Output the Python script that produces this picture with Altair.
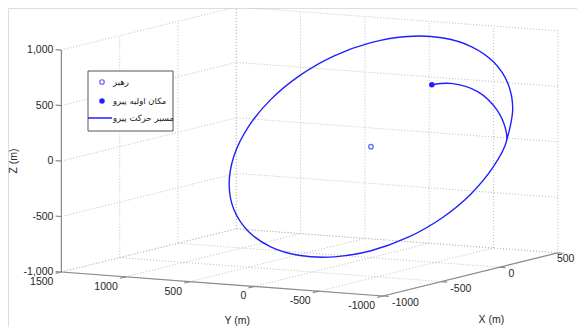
import math
import altair as alt
import pandas as pd

# ---------------- axis limits, ticks, labels ----------------
X_LIM = [-1000, 500]
Y_LIM = [-1000, 1500]
Z_LIM = [-1000, 1000]
X_TICKS = [-1000, -500, 0, 500]
Y_TICKS = [-1000, -500, 0, 500, 1000, 1500]
Z_TICKS = [-1000, -500, 0, 500, 1000]
X_TICK_LABELS = ["-1000", "-500", "0", "500"]
Y_TICK_LABELS = ["-1000", "-500", "0", "500", "1000", "1500"]
Z_TICK_LABELS = ["-1,000", "-500", "0", "500", "1,000"]
X_TITLE, Y_TITLE, Z_TITLE = "X (m)", "Y (m)", "Z (m)"

# ---------------- data (metres) ----------------
path_x = [294, 306, 278, 205, 119, 68, -47, -176, -293, -390, -461, -500, -505, -476,
          -414, -324, -212, -86, 47, 176, 293, 390, 461, 500, 505, 476, 414, 324, 212, 68]
path_y = [-207, -359, -578, -792, -940, -992, -997, -939, -817, -639, -418, -168, 93, 348,
          579, 771, 910, 987, 997, 939, 817, 639, 418, 168, -93, -348, -579, -771, -910, -992]
path_z = [500, 520, 474, 349, 204, 118, -78, -297, -496, -662, -782, -849, -858, -809,
          -705, -552, -362, -147, 78, 297, 496, 662, 782, 849, 858, 809, 705, 552, 362, 118]
leader_xyz = [0, 0, 0]
start_xyz = [294, -207, 500]

LEGEND_LABELS = ["رهبر", "مکان اولیه پیرو", "مسیر حرکت پیرو"]

# ---------------- view (MATLAB-like orthographic projection) ----------------
AZ = math.radians(61.2)
EL = math.radians(7.8)
BOX = (363, 367, 224)


def project(x, y, z):
    xn = (x - X_LIM[0]) / (X_LIM[1] - X_LIM[0]) * BOX[0]
    yn = (y - Y_LIM[0]) / (Y_LIM[1] - Y_LIM[0]) * BOX[1]
    zn = (z - Z_LIM[0]) / (Z_LIM[1] - Z_LIM[0]) * BOX[2]
    h = xn * math.cos(AZ) - yn * math.sin(AZ)
    v = (xn * math.sin(AZ) + yn * math.cos(AZ)) * math.sin(EL) + zn * math.cos(EL)
    return h, v


def seg_frame(segs):
    rows = []
    for p, q in segs:
        h1, v1 = project(*p)
        h2, v2 = project(*q)
        rows.append({"h": h1, "v": v1, "h2": h2, "v2": v2})
    return pd.DataFrame(rows)


x0, x1 = X_LIM
y0, y1 = Y_LIM
z0, z1 = Z_LIM

# grid lines on the three back planes
grid = []
for xt in X_TICKS:
    grid.append(((xt, y0, z0), (xt, y1, z0)))       # floor
    grid.append(((xt, y1, z0), (xt, y1, z1)))       # left wall (Y = max)
for yt in Y_TICKS:
    grid.append(((x0, yt, z0), (x1, yt, z0)))       # floor
    grid.append(((x1, yt, z0), (x1, yt, z1)))       # back wall (X = max)
for zt in Z_TICKS:
    grid.append(((x0, y1, zt), (x1, y1, zt)))       # left wall
    grid.append(((x1, y0, zt), (x1, y1, zt)))       # back wall
grid_df = seg_frame(grid)

axes_df = seg_frame([
    ((x0, y1, z0), (x0, y1, z1)),   # Z axis
    ((x0, y0, z0), (x0, y1, z0)),   # Y axis
    ((x0, y0, z0), (x1, y0, z0)),   # X axis
])

ticks = []
for zt in Z_TICKS:
    ticks.append(((x0, y1, zt), (x0, y1 + 45, zt)))
for yt in Y_TICKS:
    ticks.append(((x0, yt, z0), (x0 - 50, yt, z0)))
for xt in X_TICKS:
    ticks.append(((xt, y0, z0), (xt, y0 - 45, z0)))
ticks_df = seg_frame(ticks)


def label_frame(points, labels):
    rows = []
    for p, t in zip(points, labels):
        h, v = project(*p)
        rows.append({"h": h, "v": v, "t": t})
    return pd.DataFrame(rows)


zlab_df = label_frame([(x0, y1, z) for z in Z_TICKS], Z_TICK_LABELS)
ylab_df = label_frame([(x0, y, z0) for y in Y_TICKS], Y_TICK_LABELS)
xlab_df = label_frame([(x, y0, z0) for x in X_TICKS[:-1]], X_TICK_LABELS[:-1])
xlab_last_df = label_frame([(X_TICKS[-1], y0, z0)], X_TICK_LABELS[-1:])
ztit_df = label_frame([(x0, y1, 0)], [Z_TITLE])
ytit_df = label_frame([(x0, (y0 + y1) / 2, z0)], [Y_TITLE])
xtit_df = label_frame([((x0 + x1) / 2, y0, z0)], [X_TITLE])

path_rows = []
for i, (px, py, pz) in enumerate(zip(path_x, path_y, path_z)):
    h, v = project(px, py, pz)
    path_rows.append({"i": i, "h": h, "v": v})
path_df = pd.DataFrame(path_rows)
lh, lv = project(*leader_xyz)
sh, sv = project(*start_xyz)
leader_df = pd.DataFrame([{"h": lh, "v": lv}])
start_df = pd.DataFrame([{"h": sh, "v": sv}])

# ---------------- chart ----------------
W, H = 569, 319
XS = alt.Scale(domain=[-375, 194], nice=False, zero=False)
YS = alt.Scale(domain=[-31, 288], nice=False, zero=False)
FONT = "Liberation Sans"
BLUE = "#2020ff"
AXC = "#8a8a8a"
TXT = "#262626"


def xy():
    return dict(x=alt.X("h:Q", scale=XS, axis=None), y=alt.Y("v:Q", scale=YS, axis=None))


def seg_enc():
    return dict(x=alt.X("h:Q", scale=XS, axis=None), y=alt.Y("v:Q", scale=YS, axis=None),
                x2="h2:Q", y2="v2:Q")


grid_layer = alt.Chart(grid_df).mark_rule(color="#bdbdbd", strokeWidth=1, strokeDash=[1, 2]).encode(**seg_enc())
axes_layer = alt.Chart(axes_df).mark_rule(color=AXC, strokeWidth=1.2).encode(**seg_enc())
ticks_layer = alt.Chart(ticks_df).mark_rule(color=AXC, strokeWidth=1.2).encode(**seg_enc())

zlab = alt.Chart(zlab_df).mark_text(font=FONT, fontSize=10.5, color=TXT, align="right",
                                    baseline="middle", dx=-8).encode(**xy(), text="t:N")
ylab = alt.Chart(ylab_df).mark_text(font=FONT, fontSize=10.5, color=TXT, align="right",
                                    baseline="middle", dx=-8, dy=10).encode(**xy(), text="t:N")
xlab = alt.Chart(xlab_df).mark_text(font=FONT, fontSize=10.5, color=TXT, align="left",
                                    baseline="middle", dx=9, dy=7).encode(**xy(), text="t:N")
xlab_last = alt.Chart(xlab_last_df).mark_text(font=FONT, fontSize=10.5, color=TXT, align="left",
                                              baseline="middle", dx=-1, dy=6).encode(**xy(), text="t:N")
ztit = alt.Chart(ztit_df).mark_text(font=FONT, fontSize=10.5, color=TXT, align="center",
                                    baseline="middle", dy=-47, angle=270).encode(**xy(), text="t:N")
ytit = alt.Chart(ytit_df).mark_text(font=FONT, fontSize=10.5, color=TXT, align="center",
                                    baseline="middle", dx=15, dy=37).encode(**xy(), text="t:N")
xtit = alt.Chart(xtit_df).mark_text(font=FONT, fontSize=10.5, color=TXT, align="center",
                                    baseline="middle", dx=21, dy=46).encode(**xy(), text="t:N")

path_layer = alt.Chart(path_df).mark_line(color=BLUE, strokeWidth=1.4, interpolate="catmull-rom").encode(
    **xy(), order="i:Q")
leader_layer = alt.Chart(leader_df).mark_point(shape="circle", filled=False, color=BLUE, size=20,
                                               strokeWidth=1.2).encode(**xy())
start_layer = alt.Chart(start_df).mark_circle(color=BLUE, size=30, opacity=1).encode(**xy())

# legend (drawn by hand, MATLAB style)
one = pd.DataFrame({"k": [0]})
leg_box = alt.Chart(one).mark_rect(fill="white", stroke="#555555", strokeWidth=1).encode(
    x=alt.value(80), x2=alt.value(165), y=alt.value(63), y2=alt.value(123))
leg_p1 = alt.Chart(one).mark_point(shape="circle", filled=False, color=BLUE, size=20, strokeWidth=1.2).encode(
    x=alt.value(94), y=alt.value(74))
leg_p2 = alt.Chart(one).mark_circle(color=BLUE, size=30, opacity=1).encode(x=alt.value(94), y=alt.value(93))
leg_line = alt.Chart(one).mark_rule(color=BLUE, strokeWidth=1.5).encode(
    x=alt.value(80), x2=alt.value(104), y=alt.value(110), y2=alt.value(110))
leg_texts = []
for lbl, yy in zip(LEGEND_LABELS, [74, 93, 110]):
    leg_texts.append(alt.Chart(pd.DataFrame({"t": [lbl]})).mark_text(
        font="DejaVu Sans", fontSize=8.5, color="#222222", align="left", baseline="middle").encode(
        x=alt.value(105), y=alt.value(yy), text="t:N"))

chart = alt.layer(
    grid_layer, axes_layer, ticks_layer, zlab, ylab, xlab, xlab_last, ztit, ytit, xtit,
    path_layer, leader_layer, start_layer, leg_box, leg_p1, leg_p2, leg_line, *leg_texts
).properties(
    width=W, height=H, autosize=alt.AutoSizeParams(type="none"), padding=0
).configure_view(stroke=None).configure(background="white")

chart.save("out.html", embed_options={"renderer": "svg", "actions": False})
